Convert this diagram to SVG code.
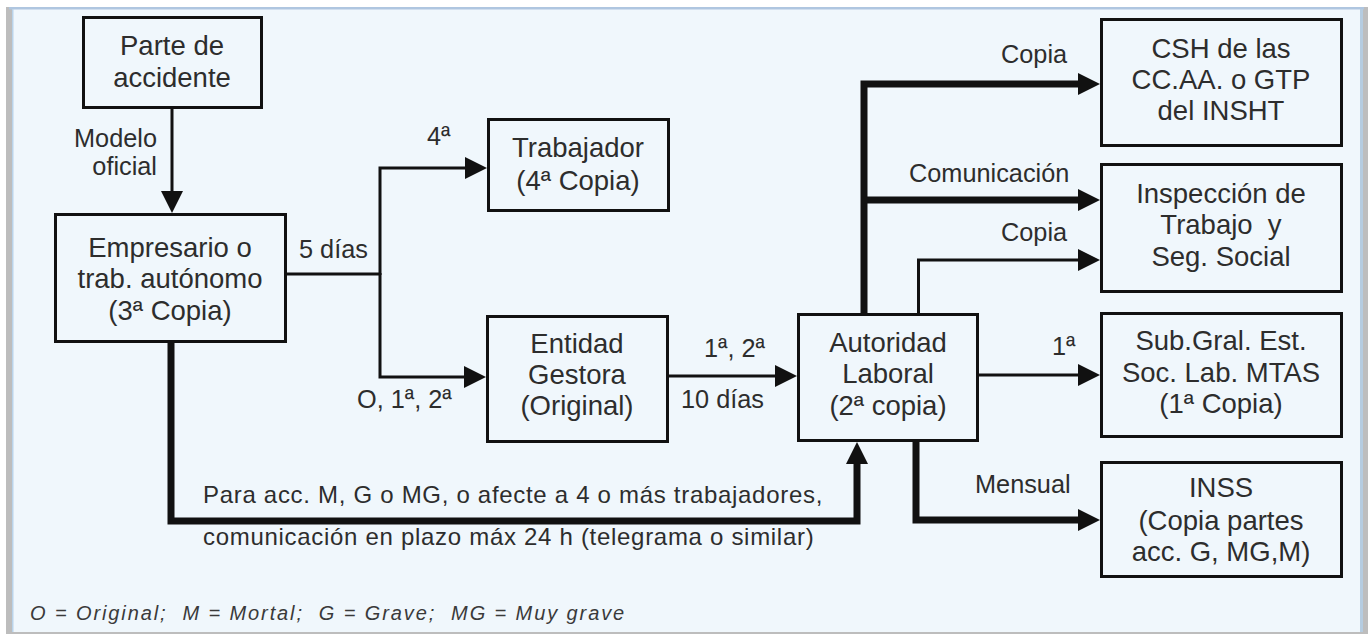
<svg xmlns="http://www.w3.org/2000/svg" width="1372" height="634" viewBox="0 0 1372 634">
<style>
.box{fill:none;stroke:#111;stroke-width:3}
.n{font-family:"Liberation Sans",Arial,sans-serif;font-size:27.5px;fill:#2d2d2d;text-anchor:middle}
.l{font-family:"Liberation Sans",Arial,sans-serif;font-size:25.3px;fill:#2d2d2d}
.b{font-family:"Liberation Sans",Arial,sans-serif;font-size:24px;letter-spacing:0.7px;fill:#2d2d2d}
.lg{font-family:"Liberation Sans",Arial,sans-serif;font-size:20px;letter-spacing:1.9px;font-style:italic;fill:#3a3a3a;white-space:pre}
.thin{fill:none;stroke:#111;stroke-width:3;stroke-linejoin:miter}
.thick{fill:none;stroke:#111;stroke-width:7;stroke-linejoin:miter}
</style>
<defs>
<marker id="ah" markerUnits="userSpaceOnUse" markerWidth="22" markerHeight="22" refX="12" refY="11" orient="auto">
<path d="M0,0 L22,11 L0,22 z" fill="#111"/>
</marker>
</defs>
<rect x="0" y="0" width="1372" height="634" fill="#ffffff"/>
<rect x="6" y="7" width="1362" height="627" fill="#bdbdbd"/>
<rect x="12" y="9" width="1351" height="623" fill="#f0f7fc"/>
<rect x="9" y="7" width="1355" height="2.5" fill="#afc6e0"/>
<rect x="12" y="9" width="1.5" height="623" fill="#b9d3ea"/>
<rect x="1360" y="9" width="3" height="623" fill="#b5cce0"/>

<g id="connectors">
<path class="thin" d="M172,109 V203" marker-end="url(#ah)"/>
<path class="thin" d="M287,274 H380"/>
<path class="thin" d="M380,275 V168 H477" marker-end="url(#ah)"/>
<path class="thin" d="M380,273 V377 H476" marker-end="url(#ah)"/>
<path class="thin" d="M669,376 H787" marker-end="url(#ah)"/>
<path class="thick" d="M171,343 V521 H857 V452" marker-end="url(#ah)"/>
<path class="thick" d="M864,313 V84 H1090" marker-end="url(#ah)"/>
<path class="thick" d="M864,200 H1090" marker-end="url(#ah)"/>
<path class="thin" d="M918.5,313 V260 H1090" marker-end="url(#ah)"/>
<path class="thin" d="M979,375 H1090" marker-end="url(#ah)"/>
<path class="thick" d="M916,442 V520 H1090" marker-end="url(#ah)"/>
<text class="l" x="157" y="147" text-anchor="end">Modelo</text>
<text class="l" x="157" y="175" text-anchor="end">oficial</text>
<text class="l" x="427" y="145">4ª</text>
<text class="l" x="299" y="258">5 días</text>
<text class="l" x="357" y="408">O, 1ª, 2ª</text>
<text class="l" x="704" y="357">1ª, 2ª</text>
<text class="l" x="681" y="408">10 días</text>
<text class="l" x="1001" y="63">Copia</text>
<text class="l" x="909" y="182">Comunicación</text>
<text class="l" x="1001" y="241">Copia</text>
<text class="l" x="1052" y="355">1ª</text>
<text class="l" x="975" y="493">Mensual</text>
<text class="b" x="203" y="503">Para acc. M, G o MG, o afecte a 4 o más trabajadores,</text>
<text class="b" x="203" y="545">comunicación en plazo máx 24 h (telegrama o similar)</text>
</g>

<g id="parte">
<rect class="box" x="83.5" y="17.5" width="178" height="90"/>
<text class="n" x="172" y="55">Parte de</text>
<text class="n" x="172" y="87">accidente</text>
</g>
<g id="empresario">
<rect class="box" x="55.5" y="214.5" width="230" height="127"/>
<text class="n" x="170" y="257">Empresario o</text>
<text class="n" x="170" y="288">trab. autónomo</text>
<text class="n" x="170" y="320">(3ª Copia)</text>
</g>
<g id="trabajador">
<rect class="box" x="488.5" y="119.5" width="180" height="91"/>
<text class="n" x="578" y="157">Trabajador</text>
<text class="n" x="578" y="190">(4ª Copia)</text>
</g>
<g id="entidad">
<rect class="box" x="487.5" y="316.5" width="180" height="125"/>
<text class="n" x="577" y="353">Entidad</text>
<text class="n" x="577" y="384">Gestora</text>
<text class="n" x="577" y="415">(Original)</text>
</g>
<g id="autoridad">
<rect class="box" x="798.5" y="314.5" width="179" height="126"/>
<text class="n" x="888" y="352">Autoridad</text>
<text class="n" x="888" y="383">Laboral</text>
<text class="n" x="888" y="415">(2ª copia)</text>
</g>
<g id="csh">
<rect class="box" x="1101.5" y="19.5" width="240" height="126"/>
<text class="n" x="1221" y="58">CSH de las</text>
<text class="n" x="1221" y="89">CC.AA. o GTP</text>
<text class="n" x="1221" y="120">del INSHT</text>
</g>
<g id="inspeccion">
<rect class="box" x="1101.5" y="164.5" width="240" height="127"/>
<text class="n" x="1221" y="203">Inspección de</text>
<text class="n" x="1221" y="234" style="white-space:pre">Trabajo  y</text>
<text class="n" x="1221" y="266">Seg. Social</text>
</g>
<g id="subgral">
<rect class="box" x="1101.5" y="313.5" width="240" height="123"/>
<text class="n" x="1221" y="350">Sub.Gral. Est.</text>
<text class="n" x="1221" y="382">Soc. Lab. MTAS</text>
<text class="n" x="1221" y="413">(1ª Copia)</text>
</g>
<g id="inss">
<rect class="box" x="1101.5" y="462.5" width="240" height="114"/>
<text class="n" x="1221" y="497">INSS</text>
<text class="n" x="1221" y="530">(Copia partes</text>
<text class="n" x="1221" y="561">acc. G, MG,M)</text>
</g>
<text class="lg" x="30" y="620">O = Original;  M = Mortal;  G = Grave;  MG = Muy grave</text>
</svg>
